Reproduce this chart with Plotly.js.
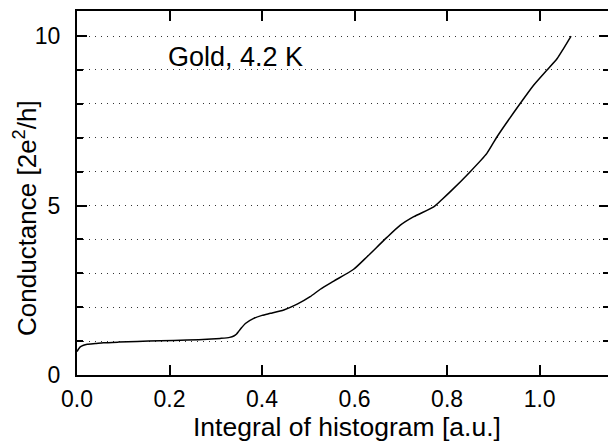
<!DOCTYPE html>
<html>
<head>
<meta charset="utf-8">
<script src="https://cdn.plot.ly/plotly-3.0.1.min.js"></script>
<style>
  html, body { margin: 0; padding: 0; background: #fff; overflow: hidden; }
  #chart { width: 609px; height: 445px; }
</style>
</head>
<body>
<div id="chart"></div>
<script>
// Cumulative histogram integral vs. conductance for a gold contact at 4.2 K
const integral = [0.000, 0.003, 0.007, 0.014, 0.022, 0.040, 0.057, 0.090, 0.130, 0.180, 0.238,
  0.290, 0.310, 0.330, 0.339, 0.345, 0.349, 0.356, 0.364, 0.382, 0.400, 0.418, 0.447,
  0.476, 0.504, 0.526, 0.555, 0.598, 0.627, 0.670, 0.699, 0.728, 0.771, 0.789, 0.807,
  0.850, 0.886, 0.908, 0.958, 0.987, 1.016, 1.038, 1.052, 1.068];
const conductance = [0.69, 0.76, 0.83, 0.88, 0.91, 0.93, 0.95, 0.97, 0.99, 1.01, 1.03,
  1.06, 1.08, 1.11, 1.15, 1.21, 1.28, 1.40, 1.52, 1.67, 1.76, 1.82, 1.92,
  2.09, 2.31, 2.53, 2.77, 3.12, 3.49, 4.06, 4.42, 4.67, 4.96, 5.18, 5.41,
  6.00, 6.54, 7.03, 8.01, 8.55, 9.00, 9.34, 9.64, 10.00];

const xTickVals = [0.0, 0.2, 0.4, 0.6, 0.8, 1.0];
const xTickText = ['0.0', '0.2', '0.4', '0.6', '0.8', '1.0'];
const yTickVals = [0, 5, 10];
const yTickText = ['0', '5', '10'];

const FONT = 'Liberation Sans, Arial, sans-serif';

const trace = {
  x: integral,
  y: conductance,
  type: 'scatter',
  mode: 'lines',
  line: { color: '#000', width: 1.5, shape: 'spline', smoothing: 0.6 },
  hoverinfo: 'skip'
};

const layout = {
  width: 609,
  height: 445,
  margin: { l: 77, r: 0, t: 11, b: 70, pad: 0 },
  paper_bgcolor: '#fff',
  plot_bgcolor: '#fff',
  showlegend: false,
  font: { family: FONT, color: '#000' },
  xaxis: {
    range: [0, 1.15],
    tickvals: xTickVals,
    ticktext: xTickText,
    ticks: 'inside',
    ticklen: 10,
    tickwidth: 2,
    tickcolor: '#000',
    showline: true,
    linewidth: 2,
    linecolor: '#000',
    mirror: 'allticks',
    showgrid: false,
    zeroline: false,
    tickfont: { size: 23, family: FONT },
    ticklabelstandoff: 2
  },
  yaxis: {
    range: [0, 10.74],
    tickvals: yTickVals,
    ticktext: yTickText,
    ticks: 'inside',
    ticklen: 10,
    tickwidth: 2,
    tickcolor: '#000',
    showline: true,
    linewidth: 2,
    linecolor: '#000',
    mirror: 'allticks',
    showgrid: true,
    gridcolor: '#333',
    gridwidth: 1,
    griddash: '1px,5px',
    zeroline: false,
    tickfont: { size: 23, family: FONT },
    ticklabelstandoff: 10,
    minor: {
      dtick: 1,
      tick0: 0,
      ticks: 'inside',
      ticklen: 6,
      tickwidth: 2,
      tickcolor: '#000',
      showgrid: true,
      gridcolor: '#333',
      gridwidth: 1,
      griddash: '1px,5px'
    }
  },
  annotations: [
    {
      // label inside the plot
      text: 'Gold, 4.2 K',
      xref: 'x', yref: 'y',
      x: 0.193, y: 9.39,
      xanchor: 'left', yanchor: 'middle',
      showarrow: false,
      font: { size: 27, family: FONT, color: '#000' }
    },
    {
      // x axis title
      text: 'Integral of histogram [a.u.]',
      xref: 'paper', yref: 'paper',
      x: 0.507, y: -0.144,
      xanchor: 'center', yanchor: 'middle',
      showarrow: false,
      font: { size: 26.5, family: FONT, color: '#000' }
    },
    {
      // y axis title
      text: 'Conductance [2e<sup>2</sup>/h]',
      xref: 'paper', yref: 'paper',
      x: -0.098, y: 0.431,
      xanchor: 'center', yanchor: 'middle',
      textangle: -90,
      showarrow: false,
      font: { size: 26, family: FONT, color: '#000' }
    }
  ]
};

Plotly.newPlot('chart', [trace], layout, { displayModeBar: false, staticPlot: true });
</script>
</body>
</html>
